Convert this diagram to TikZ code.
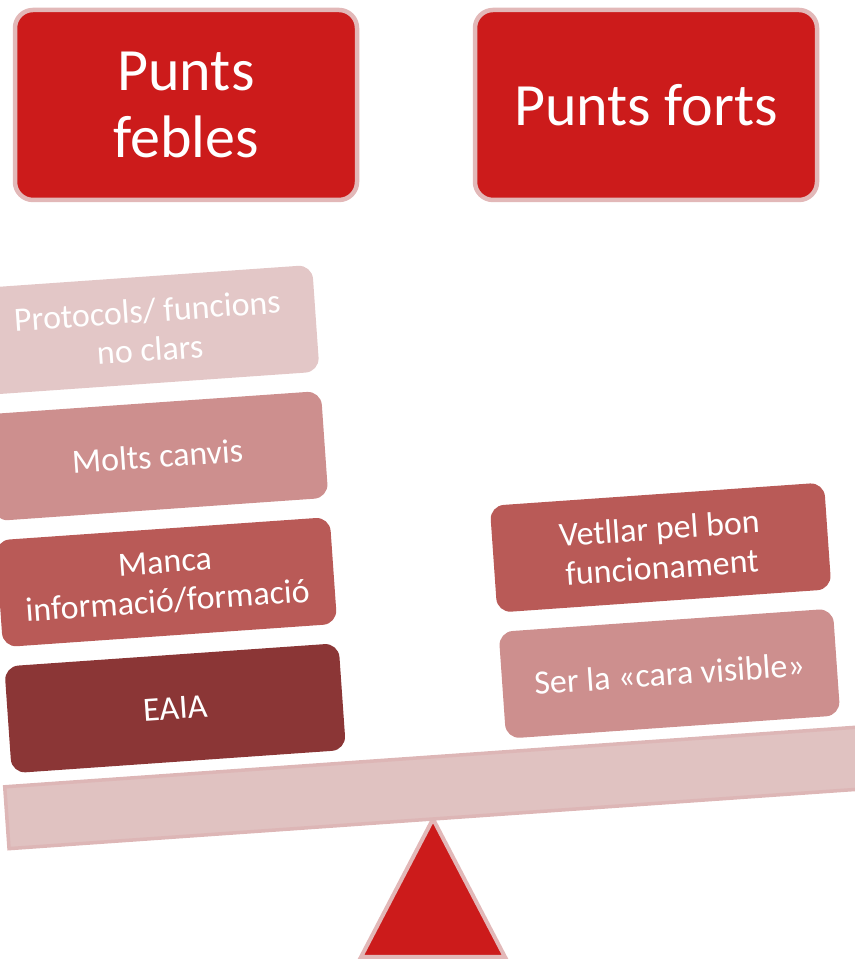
\documentclass[tikz,border=0pt]{standalone}
\usepackage{fontspec}
\setmainfont{Carlito}
\usetikzlibrary{positioning}
\definecolor{headred}{RGB}{204,27,27}
\definecolor{headline}{RGB}{226,184,184}
\definecolor{shadeA}{RGB}{227,199,199}
\definecolor{shadeB}{RGB}{205,143,142}
\definecolor{shadeC}{RGB}{185,90,87}
\definecolor{shadeD}{RGB}{139,54,54}
\definecolor{beamfill}{RGB}{224,194,193}
\definecolor{beamline}{RGB}{221,182,182}
\tikzset{
    header/.style={draw=headline, line width=4.5pt, fill=headred, text=white, rounded corners=18pt,
        minimum width=342pt, minimum height=190pt, align=center, inner sep=0pt,
        font=\fontsize{60}{67}\selectfont},
    item/.style={fill=#1, text=white, rounded corners=14pt, minimum width=335pt, minimum height=107pt,
        align=center, inner sep=0pt, font=\fontsize{34}{39}\selectfont},
    beam/.style={fill=beamfill, draw=beamline, line width=3.5pt},
    fulcrum/.style={fill=headred, draw=headline, line width=4pt}
}
\begin{document}
\begin{tikzpicture}[x=1pt, y=1pt]
    \useasboundingbox (0,0) rectangle (854,960);

    % --- Headers ---
    \node (weak) [header] at (186,855) {Punts\\febles};
    \node (strong) [header] at (646,855) {Punts forts};

    % --- Fulcrum ---
    \coordinate (pivot) at (433,141);
    \draw[fulcrum] (pivot) -- (505,3) -- (361,3) -- cycle;

    \begin{scope}[shift={(pivot)}, rotate=4, transform shape]
        % --- Beam ---
        \draw[beam] (-425,0) rectangle (470,62);

        % --- Left pan ---
        \node (eaia) [item=shadeD] at (-249.5,128.5) {EAIA};
        \node (manca) [item=shadeC, above=19pt of eaia] {Manca\\informació/formació};
        \node (canvis) [item=shadeB, above=19pt of manca] {Molts canvis};
        \node (protocols) [item=shadeA, above=19pt of canvis] {Protocols/ funcions\\no clars};

        % --- Right pan ---
        \node (cara) [item=shadeB] at (246,128.5) {Ser la «cara visible»};
        \node (vetllar) [item=shadeC, above=19pt of cara] {Vetllar pel bon\\funcionament};
    \end{scope}
\end{tikzpicture}
\end{document}
